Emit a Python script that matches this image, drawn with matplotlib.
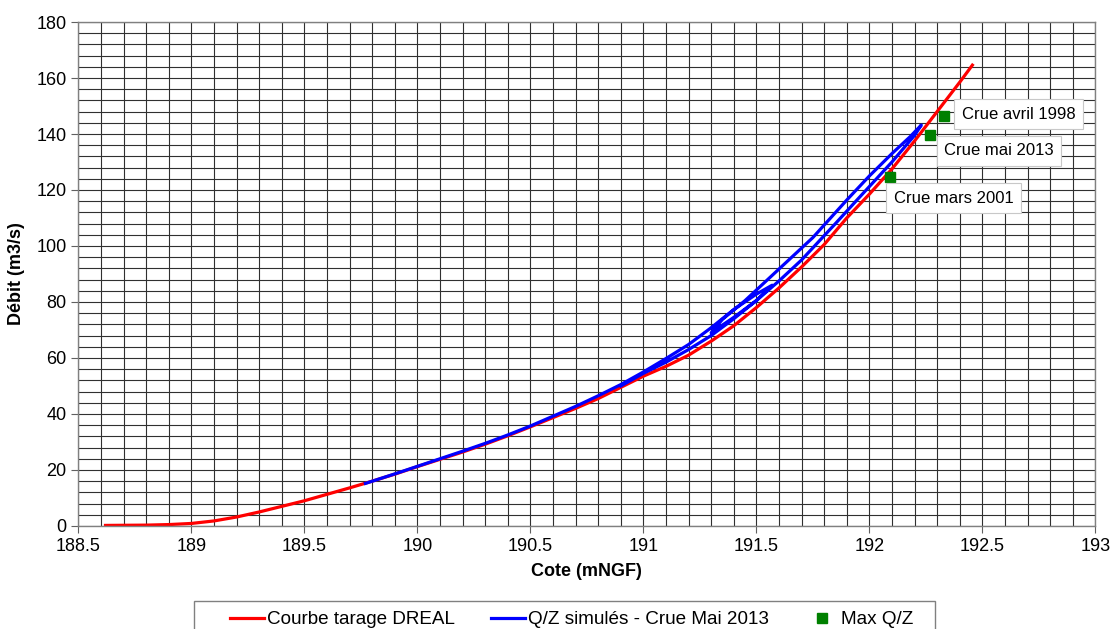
import matplotlib
matplotlib.use("Agg")
import matplotlib.pyplot as plt
from matplotlib.patches import Rectangle
import numpy as np

plt.rcParams['font.family'] = ['Liberation Sans', 'DejaVu Sans']

# Courbe de tarage DREAL
red_z = [188.62, 188.8, 188.9, 189.0, 189.1, 189.2, 189.3, 189.4, 189.5, 189.6,
         189.7, 189.8, 189.9, 190.0, 190.1, 190.2, 190.3, 190.4, 190.5, 190.6,
         190.7, 190.8, 190.9, 191.0, 191.1, 191.2, 191.3, 191.4, 191.5, 191.6,
         191.7, 191.8, 191.9, 192.0, 192.1, 192.2, 192.3, 192.4, 192.456]
red_q = [0.2, 0.3, 0.5, 0.9, 1.8, 3.2, 5.0, 7.0, 9.0, 11.3,
         13.6, 16.0, 18.5, 21.2, 23.8, 26.4, 29.2, 32.2, 35.4, 38.7,
         42.0, 45.5, 49.5, 53.5, 57.0, 61.0, 66.0, 71.5, 78.0, 85.0,
         92.5, 100.5, 110.0, 118.5, 127.5, 137.5, 148.0, 158.5, 164.6]

# Q/Z simulés - Crue Mai 2013
blue_z = [189.77, 189.9, 190.0, 190.1, 190.2, 190.3, 190.4, 190.5, 190.6, 190.7,
          190.8, 190.9, 191.0, 191.1, 191.2, 191.3, 191.4, 191.5, 191.57,
          191.5, 191.4, 191.3,
          191.35, 191.45, 191.55, 191.65, 191.75, 191.9, 192.0, 192.1, 192.18, 192.23,
          192.2, 192.1, 191.945, 191.85, 191.7, 191.6, 191.5, 191.4, 191.3, 191.2,
          191.1, 191.0, 190.9]
blue_q = [15.2, 18.6, 21.3, 24.0, 26.7, 29.5, 32.5, 35.7, 39.2, 42.7,
          46.5, 50.5, 55.0, 59.8, 64.8, 70.8, 77.3, 82.8, 86.0,
          80.5, 74.5, 69.0,
          73.8, 80.5, 88.0, 95.5, 103.0, 116.4, 125.0, 133.0, 139.0, 143.2,
          139.5, 130.0, 116.4, 108.0, 95.0, 87.5, 80.5, 74.0, 68.0, 63.0,
          58.5, 54.5, 50.0]

# Max Q/Z
max_z = [192.33, 192.27, 192.09]
max_q = [146.4, 139.5, 124.8]
max_labels = ["Crue avril 1998", "Crue mai 2013", "Crue mars 2001"]

fig = plt.figure(figsize=(11.12, 6.29), dpi=100)
ax = fig.add_axes([0.0705, 0.1638, 0.9145, 0.8012])

ax.set_xlim(188.5, 193)
ax.set_ylim(0, 180)
ax.set_xticks(np.arange(188.5, 193.01, 0.5))
ax.set_xticklabels(["188.5", "189", "189.5", "190", "190.5", "191", "191.5",
                    "192", "192.5", "193"])
ax.set_yticks(np.arange(0, 181, 20))
ax.set_xticks(np.arange(188.5, 193.01, 0.1), minor=True)
ax.set_yticks(np.arange(0, 181, 4), minor=True)
ax.grid(which='both', color='#303030', linewidth=0.8)
ax.set_axisbelow(True)
ax.tick_params(which='minor', length=0)
ax.tick_params(which='major', direction='out', length=5, labelsize=13,
               color='#606060')
for s in ax.spines.values():
    s.set_color('#808080')
    s.set_linewidth(1.0)

ax.plot(red_z, red_q, color='#ff0000', lw=2.3, label='Courbe tarage DREAL',
        solid_joinstyle='round')
ax.plot(blue_z, blue_q, color='#0000ff', lw=2.3,
        label='Q/Z simulés - Crue Mai 2013', solid_joinstyle='round')
ax.plot(max_z, max_q, 's', color='#008000', markersize=7, linestyle='none',
        label='Max Q/Z')

offsets = [(13, 1.5), (10, -11), (3, -15.5)]
for z, q, t, off in zip(max_z, max_q, max_labels, offsets):
    ax.annotate(t, (z, q), xytext=off, textcoords='offset points', fontsize=12,
                ha='left', va='center',
                bbox=dict(boxstyle='square,pad=0.45', fc='white', ec='#c8c8c8', lw=0.8))

ax.set_xlabel('Cote (mNGF)', fontsize=13, fontweight='bold', labelpad=6)
ax.set_ylabel('Débit (m3/s)', fontsize=13, fontweight='bold', labelpad=8)

# legend frame (extends beyond bottom edge like the reference)
W, H = 1112.0, 629.0
fig.patches.append(Rectangle((194 / W, -0.05), (935 - 194) / W, (629 - 601) / H + 0.05,
                             transform=fig.transFigure, fc='white', ec='#808080',
                             lw=1.0, zorder=0))
leg = fig.legend(loc='center', bbox_to_anchor=(0.5144, (629 - 619.5) / H), ncol=3,
                 fontsize=13.6, frameon=False,
                 handlelength=1.8, handletextpad=0.15, columnspacing=1.9,
                 borderpad=0.0, borderaxespad=0.0, markerscale=1.0)

fig.savefig('out.png', dpi=100)
